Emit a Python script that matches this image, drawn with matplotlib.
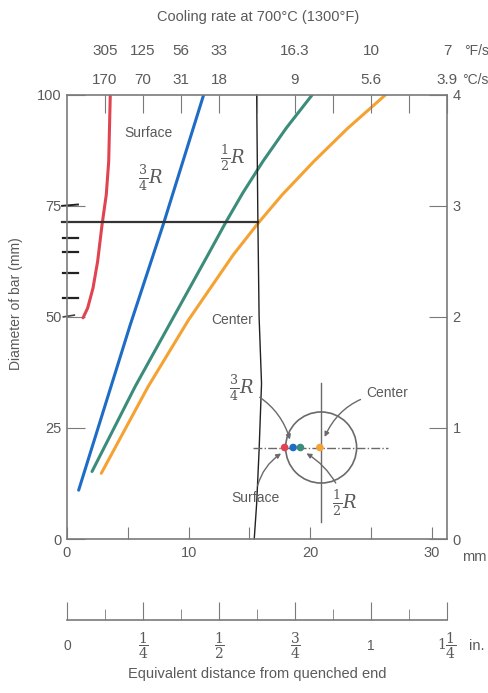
import numpy as np
import matplotlib.pyplot as plt
from matplotlib.patches import Ellipse

plt.rcParams['font.family'] = ['Liberation Sans', 'DejaVu Sans']
plt.rcParams['mathtext.fontset'] = 'dejavuserif'

gray = '#5a5a5a'
spine_c = '#7a7a7a'

# curve data (distance mm, diameter mm)
surf_x = [1.32, 1.70, 2.14, 2.52, 2.88, 3.23, 3.43, 3.56]
surf_y = [49.8, 52.0, 56.5, 62.5, 70.7, 77.5, 85.0, 100]
r34_x = [0.96, 5.2, 7.95, 11.24]
r34_y = [11.0, 48.2, 71.1, 100]
r12_x = [2.06, 5.6, 8.63, 11.6, 13.1, 14.48, 16.11, 18.03, 20.17]
r12_y = [15.2, 34.3, 49.3, 64.0, 71.5, 78.0, 85.0, 92.5, 100]
cen_x = [2.82, 6.67, 9.99, 13.68, 15.72, 17.7, 20.3, 23.1, 26.2]
cen_y = [14.8, 34.3, 49.3, 64.0, 71.1, 77.5, 85.0, 92.5, 100]

# top scale: cooling rates at 1/8 in steps
top_pos_in = [1/8, 2/8, 3/8, 4/8, 6/8, 1, 10/8]
rate_F = ['305', '125', '56', '33', '16.3', '10', '7']
rate_C = ['170', '70', '31', '18', '9', '5.6', '3.9']

# bottom inch scale
in_major = [0, 0.25, 0.5, 0.75, 1.0, 1.25]
in_labels = ['0', r'$\dfrac{1}{4}$', r'$\dfrac{1}{2}$', r'$\dfrac{3}{4}$', '1',
             r'$1\dfrac{1}{4}$']

# inset dots (x positions, mm) and colors
dot_x = [17.9, 18.6, 19.2, 20.8]
colors = ['#e04450', '#1f6cc6', '#3b8c7a', '#f5a232']

MM_PER_IN = 25.0

fig = plt.figure(figsize=(4.89, 6.93), dpi=100)
ax = fig.add_axes([0.137, 0.2222, 0.777, 0.641])

for xs, ys, c in [(surf_x, surf_y, colors[0]), (r34_x, r34_y, colors[1]),
                  (r12_x, r12_y, colors[2]), (cen_x, cen_y, colors[3])]:
    ax.plot(xs, ys, color=c, lw=2.2, solid_capstyle='round', solid_joinstyle='round')

ax.set_xlim(0, 31.25)
ax.set_ylim(0, 100)
for s in ax.spines.values():
    s.set_color(spine_c)
    s.set_linewidth(1.2)

ax.set_xticks(np.arange(0, 31, 5))
ax.set_xticklabels(['0', '', '10', '', '20', '', '30'])
ax.set_yticks([0, 25, 50, 75, 100])
ax.tick_params(axis='x', direction='in', length=9, color=spine_c, labelcolor=gray,
               labelsize=10.5, pad=5)
ax.tick_params(axis='y', direction='in', length=13, color=spine_c, labelcolor=gray,
               labelsize=10.5, pad=4)
ax.text(1.04, -0.024, 'mm', transform=ax.transAxes, color=gray, fontsize=10.5,
        ha='left', va='top')
ax.set_ylabel('Diameter of bar (mm)', color=gray, fontsize=10)
ax.yaxis.set_label_coords(-0.115, 0.53)

# right axis (inches)
axr = ax.twinx()
axr.set_ylim(0, 4)
axr.set_yticks([0, 1, 2, 3, 4])
axr.tick_params(axis='y', direction='in', length=13, color=spine_c, labelcolor=gray,
                labelsize=10.5, pad=4)
for s in axr.spines.values():
    s.set_visible(False)

# top axis (cooling rates)
axt = ax.twiny()
axt.set_xlim(ax.get_xlim())
axt.set_xticks([k * MM_PER_IN / 8 for k in range(1, 11)])
axt.set_xticklabels([])
axt.tick_params(axis='x', direction='in', length=13, color=spine_c)
for s in axt.spines.values():
    s.set_visible(False)
for p, f, c in zip(top_pos_in, rate_F, rate_C):
    axt.text(p * MM_PER_IN, 1.018, c, transform=axt.get_xaxis_transform(),
             ha='center', va='bottom', color=gray, fontsize=11)
    axt.text(p * MM_PER_IN, 1.083, f, transform=axt.get_xaxis_transform(),
             ha='center', va='bottom', color=gray, fontsize=11)
axt.text(1.04, 1.018, '°C/s', transform=axt.transAxes, ha='left', va='bottom',
         color=gray, fontsize=10)
axt.text(1.045, 1.083, '°F/s', transform=axt.transAxes, ha='left', va='bottom',
         color=gray, fontsize=10)
fig.text(0.527, 0.975, 'Cooling rate at 700°C (1300°F)', ha='center', va='center',
         color=gray, fontsize=10.5)

# curve labels
ax.text(6.66, 91.4, 'Surface', color=gray, fontsize=10, ha='center', va='center')
ax.text(6.9, 81.3, r'$\frac{3}{4}R$', color=gray, fontsize=13, ha='center', va='center')
ax.text(13.65, 85.8, r'$\frac{1}{2}R$', color=gray, fontsize=13, ha='center', va='center')
ax.text(13.6, 49.3, 'Center', color=gray, fontsize=10, ha='center', va='center')

# hand drawn lines
ax.plot([-0.4, 15.7], [71.4, 71.4], color='#333333', lw=1.6, clip_on=False)
ax.plot([15.6, 15.7, 15.8, 16.0, 15.8, 15.6, 15.4], [100, 71.5, 50, 35, 20, 8, 0],
        color='#222222', lw=1.0, clip_on=False)
for yy in [67.8, 64.6, 59.9, 54.3]:
    ax.plot([-0.3, 0.9], [yy, yy], color='#222222', lw=1.6, clip_on=False)
ax.plot([-0.4, 0.9], [75, 75.3], color='#222222', lw=1.4, clip_on=False)
ax.plot([-0.3, 0.6], [50, 50.4], color='#444444', lw=1.2, clip_on=False)

# inset cross-section sketch
ax.add_patch(Ellipse((20.9, 20.6), 5.84, 16.0, fill=False, ec='#6a6a6a', lw=1.2))
ax.plot([15.3, 26.4], [20.6, 20.6], color='#6a6a6a', lw=1.0, ls='-.')
ax.plot([20.9, 20.9], [3.8, 35.1], color='#6a6a6a', lw=1.0)
ax.scatter(dot_x, [20.6] * 4, s=30, c=colors, zorder=5, edgecolors='none')

arrow = dict(arrowstyle='-|>', color='#6a6a6a', lw=1.0, mutation_scale=7)
ax.annotate(r'$\frac{3}{4}R$', xy=(18.4, 21.8), xytext=(14.4, 34.0), color=gray,
            fontsize=13, ha='center', va='center',
            arrowprops=dict(arrow, connectionstyle='arc3,rad=-0.25'))
ax.annotate('Surface', xy=(17.8, 19.6), xytext=(15.5, 9.2), color=gray,
            fontsize=10, ha='center', va='center',
            arrowprops=dict(arrow, connectionstyle='arc3,rad=-0.25'))
ax.annotate('Center', xy=(21.1, 22.4), xytext=(26.3, 32.9), color=gray,
            fontsize=10, ha='center', va='center',
            arrowprops=dict(arrow, connectionstyle='arc3,rad=0.3'))
ax.annotate(r'$\frac{1}{2}R$', xy=(19.5, 19.6), xytext=(22.8, 8.1), color=gray,
            fontsize=13, ha='center', va='center',
            arrowprops=dict(arrow, connectionstyle='arc3,rad=0.2'))

# separate inch scale
axi = fig.add_axes([0.137, 0.106, 0.777, 0.001])
axi.set_xlim(0, 1.25)
axi.set_ylim(0, 1)
for k in ['top', 'left', 'right']:
    axi.spines[k].set_visible(False)
axi.spines['bottom'].set_color(spine_c)
axi.spines['bottom'].set_linewidth(1.2)
axi.set_yticks([])
axi.set_xticks(in_major)
axi.set_xticklabels([])
axi.set_xticks(np.arange(0.125, 1.25, 0.25), minor=True)
axi.tick_params(axis='x', which='major', direction='in', length=13, color=spine_c)
axi.tick_params(axis='x', which='minor', direction='in', length=8, color=spine_c)
for v, lab in zip(in_major, in_labels):
    axi.annotate(lab, xy=(v, 0), xycoords=('data', 'axes fraction'), xytext=(0, -19),
                 textcoords='offset points', color=gray, fontsize=10,
                 ha='center', va='center')
axi.annotate('in.', xy=(1.0, 0), xycoords='axes fraction', xytext=(16, -19),
             textcoords='offset points', color=gray, fontsize=10.5,
             ha='left', va='center')
fig.text(0.527, 0.018, 'Equivalent distance from quenched end', ha='center',
         va='bottom', color=gray, fontsize=10.5)

fig.savefig('out.png', dpi=100)
